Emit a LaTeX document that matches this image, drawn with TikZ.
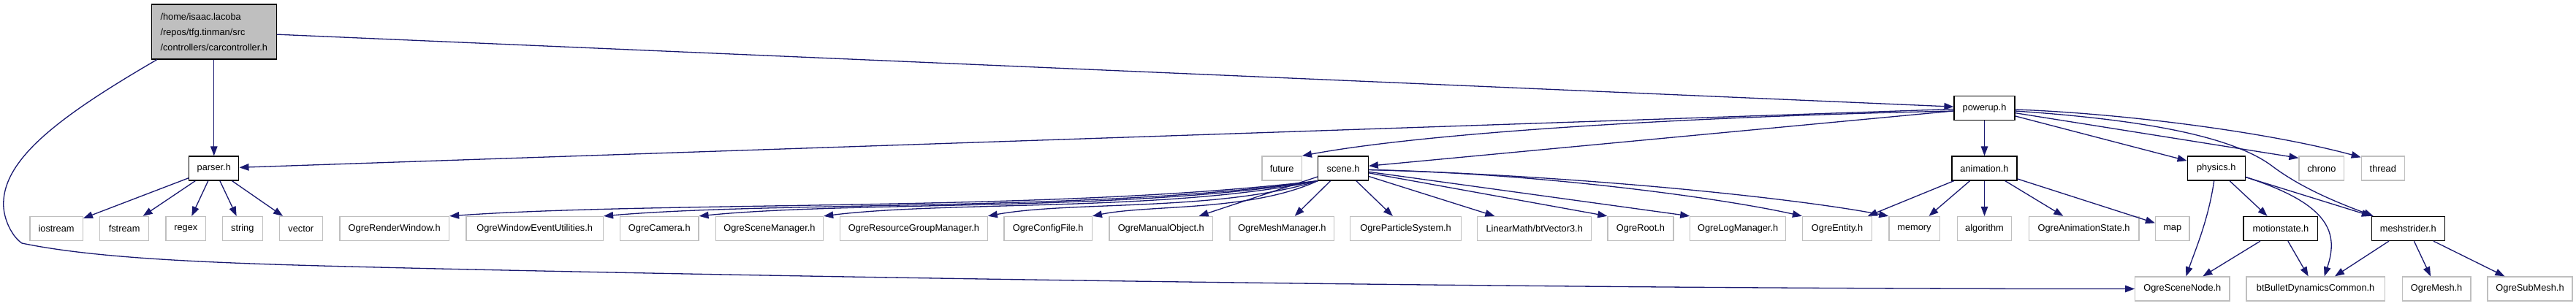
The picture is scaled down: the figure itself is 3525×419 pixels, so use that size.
\documentclass[tikz,border=0pt]{standalone}
\usepackage{fontspec}
\setmainfont{Liberation Sans}
\usetikzlibrary{arrows.meta}
\definecolor{edgeblue}{HTML}{191970}
\definecolor{boxgray}{HTML}{BFBFBF}
\begin{document}
\begin{tikzpicture}[x=1pt,y=-1pt,
  box/.style={draw, line width=1.3pt, minimum height=33pt, inner sep=0pt, font=\fontsize{12.8}{15}\selectfont},
  ext/.style={box, draw=boxgray},
  own/.style={box, draw=black},
  dep/.style={draw=edgeblue, line width=1.3pt, -{Triangle[length=13pt,width=9.5pt]}}
]
\fill[white] (0,0) rectangle (3525,419);
\useasboundingbox (0,0) rectangle (3525,419);

% top
\node[own, fill=boxgray, minimum width=170.7pt, minimum height=75pt, align=left, inner xsep=11pt, font=\fontsize{12.8}{21}\selectfont] (car) at (292.8,43.5) {/home/isaac.lacoba\\/repos/tfg.tinman/src\\/controllers/carcontroller.h};
\node[own, minimum width=83pt] (powerup) at (2715.5,148) {powerup.h};

% row 2
\node[own, minimum width=68pt] (parser) at (292.8,230.5) {parser.h};
\node[ext, minimum width=54.4pt] (future) at (1754.1,230.5) {future};
\node[own, minimum width=68.5pt] (scene) at (1838,230.5) {scene.h};
\node[own, minimum width=89.2pt] (animation) at (2715.5,230.5) {animation.h};
\node[own, minimum width=79pt] (physics) at (3032.7,230.5) {physics.h};
\node[ext, minimum width=61.6pt] (chrono) at (3176.8,230.5) {chrono};
\node[ext, minimum width=59pt] (thread) at (3260.8,230.5) {thread};

% row 3
\node[ext, minimum width=72.4pt] (iostream) at (77.1,313) {iostream};
\node[ext, minimum width=67pt] (fstream) at (170.1,313) {fstream};
\node[ext, minimum width=54.7pt] (regex) at (254.3,313) {regex};
\node[ext, minimum width=55.1pt] (str) at (331.8,313) {string};
\node[ext, minimum width=58.9pt] (vec) at (411.8,313) {vector};
\node[ext, minimum width=149.6pt] (orw) at (539.7,313) {OgreRenderWindow.h};
\node[ext, minimum width=187.5pt] (oweu) at (731.7,313) {OgreWindowEventUtilities.h};
\node[ext, minimum width=107.2pt] (ocam) at (902.3,313) {OgreCamera.h};
\node[ext, minimum width=147.3pt] (osm) at (1052.9,313) {OgreSceneManager.h};
\node[ext, minimum width=201.7pt] (orgm) at (1250.4,313) {OgreResourceGroupManager.h};
\node[ext, minimum width=120.2pt] (ocf) at (1434.2,313) {OgreConfigFile.h};
\node[ext, minimum width=141.6pt] (omo) at (1588.8,313) {OgreManualObject.h};
\node[ext, minimum width=142.7pt] (omm) at (1754.3,313) {OgreMeshManager.h};
\node[ext, minimum width=151.6pt] (ops) at (1923.6,313) {OgreParticleSystem.h};
\node[ext, minimum width=156.1pt] (btv) at (2099.7,313) {LinearMath/btVector3.h};
\node[ext, minimum width=89.9pt] (oroot) at (2244.9,313) {OgreRoot.h};
\node[ext, minimum width=130.8pt] (olm) at (2378.2,313) {OgreLogManager.h};
\node[ext, minimum width=94.9pt] (oent) at (2514,313) {OgreEntity.h};
\node[ext, minimum width=69.3pt] (memory) at (2619.5,313) {memory};
\node[ext, minimum width=74.6pt] (algo) at (2715.5,313) {algorithm};
\node[ext, minimum width=150.7pt] (oas) at (2851.6,313) {OgreAnimationState.h};
\node[ext, minimum width=46.3pt] (mapn) at (2972.7,313) {map};
\node[own, minimum width=101.7pt] (motion) at (3120.9,313) {motionstate.h};
\node[own, minimum width=99.8pt] (mesh) at (3295.3,313) {meshstrider.h};

% row 4
\node[ext, minimum width=129.3pt] (osn) at (2986.3,395.5) {OgreSceneNode.h};
\node[ext, minimum width=189.1pt] (btb) at (3168.6,395.5) {btBulletDynamicsCommon.h};
\node[ext, minimum width=93.8pt] (omesh) at (3334.1,395.5) {OgreMesh.h};
\node[ext, minimum width=115.8pt] (osub) at (3462,395.5) {OgreSubMesh.h};

% carcontroller
\draw[dep] (car) -- (parser);
\draw[dep] (car) -- (powerup);
\draw[dep] ([xshift=8pt]car.south west) .. controls (80,160) and (0,220) .. (5,285)
  .. controls (7,305) and (18,325) .. (30,333)
  .. controls (150,358) and (350,362) .. (600,368)
  .. controls (1500,388) and (2400,396) .. (osn.west);

% parser
\draw[dep] (parser) -- (iostream);
\draw[dep] (parser) -- (fstream);
\draw[dep] (parser) -- (regex);
\draw[dep] (parser) -- (str);
\draw[dep] (parser) -- (vec);

% powerup
\draw[dep] (powerup) -- (parser);
\draw[dep] ([yshift=-4pt]powerup.west) .. controls (2300,160) and (1950,182) .. (future.north east);
\draw[dep] (powerup) -- (scene);
\draw[dep] (powerup) -- (animation);
\draw[dep] (powerup) -- (physics);
\draw[dep] (powerup) -- ([yshift=-3pt]chrono.north west);
\draw[dep] ([yshift=-2pt]powerup.east) .. controls (2900,155) and (3100,180) .. ([yshift=-2pt]thread.north west);
\draw[dep] ([yshift=-4pt]powerup.east) .. controls (2950,165) and (3060,190) .. (3110,228)
  .. controls (3150,258) and (3200,278) .. ([xshift=3pt]mesh.north west);

% scene
\draw[dep] (scene.south west) .. controls (1447,290) and (912,275) .. (orw.north east);
\draw[dep] (scene.south west) .. controls (1510,290) and (1070,275) .. (oweu.north east);
\draw[dep] (scene.south west) .. controls (1549,290) and (1168,275) .. (ocam.north east);
\draw[dep] (scene.south west) .. controls (1600,290) and (1296,275) .. (osm.north east);
\draw[dep] (scene.south west) .. controls (1668,290) and (1464,275) .. (orgm.north east);
\draw[dep] (scene.south west) .. controls (1711,290) and (1572,280) .. (ocf.north east);
\draw[dep] (scene) -- (omo);
\draw[dep] (scene) -- (omm);
\draw[dep] (scene) -- (ops);
\draw[dep] (scene) -- (btv);
\draw[dep] (scene) -- (oroot.north west);
\draw[dep] (scene) -- (olm.north west);
\draw[dep] ([yshift=-2pt]scene.east) .. controls (2100,237) and (2350,270) .. (oent.north west);
\draw[dep] ([yshift=-2pt]scene.east) .. controls (2150,240) and (2450,270) .. (memory.north west);

% animation
\draw[dep] (animation) -- (oent);
\draw[dep] (animation) -- (memory);
\draw[dep] (animation) -- (algo);
\draw[dep] (animation) -- (oas);
\draw[dep] (animation) -- (mapn);

% physics
\draw[dep] ([xshift=-3pt]physics.south) .. controls (3022,300) and (3005,340) .. ([xshift=5pt]osn.north);
\draw[dep] (physics) -- (motion);
\draw[dep] ([yshift=-12pt]physics.east) .. controls (3190,280) and (3200,320) .. ([xshift=12pt]btb.north);
\draw[dep] ([yshift=-12pt]physics.east) -- (mesh.north west);

% motionstate
\draw[dep] (motion) -- (osn);
\draw[dep] (motion) -- (btb);

% meshstrider
\draw[dep] (mesh) -- (btb);
\draw[dep] (mesh) -- (omesh);
\draw[dep] (mesh) -- (osub);
\end{tikzpicture}
\end{document}
